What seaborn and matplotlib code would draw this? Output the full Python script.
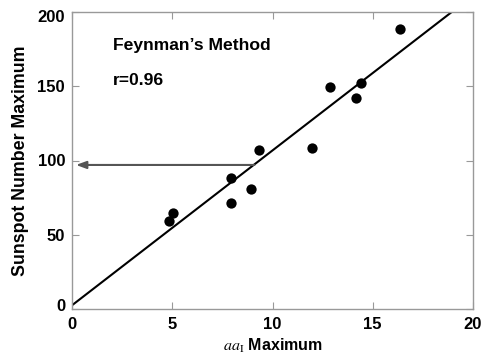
import matplotlib
matplotlib.use("Agg")
import matplotlib.pyplot as plt
import matplotlib.transforms as mtransforms
import seaborn as sns
import pandas as pd

# data
aa_max = [4.82, 5.02, 7.91, 7.95, 8.93, 9.33, 11.95, 12.87, 14.15, 14.41, 16.36]
ssn_max = [59.5, 64.9, 88.5, 71.4, 81.1, 106.8, 108.5, 149.3, 141.9, 152.2, 188.5]
fit_x = [0.0, 18.94]
fit_y = [2.5, 200.0]
pred_x = [9.1, 0.2]
pred_y = [97.0, 97.0]
x_ticks = [0, 5, 10, 15, 20]
y_ticks = [0, 50, 100, 150, 200]
title_text = "Feynman\u2019s Method"
r_text = "r=0.96"
xlabel = r"$aa_{\mathrm{I}}$ Maximum"
ylabel = "Sunspot Number Maximum"

sns.set_style("white")
plt.rcParams["font.family"] = ["Liberation Sans", "DejaVu Sans"]
plt.rcParams["mathtext.fontset"] = "stix"
plt.rcParams["text.color"] = "black"
plt.rcParams["axes.labelcolor"] = "black"
plt.rcParams["xtick.labelcolor"] = "black"
plt.rcParams["ytick.labelcolor"] = "black"

df = pd.DataFrame({"aa": aa_max, "ssn": ssn_max})
fit = pd.DataFrame({"x": fit_x, "y": fit_y})

fig = plt.figure(figsize=(4.84, 3.56), dpi=100)
ax = fig.add_axes([72 / 484, 1 - 309 / 356, (473 - 72) / 484, (309 - 12) / 356])

sns.lineplot(data=fit, x="x", y="y", ax=ax, color="black", linewidth=1.5)
sns.scatterplot(data=df, x="aa", y="ssn", ax=ax, color="black", s=55,
                edgecolor="black", linewidth=0, zorder=5)

ax.annotate("", xy=(pred_x[1], pred_y[1]), xytext=(pred_x[0], pred_y[0]),
            arrowprops=dict(arrowstyle="-|>,head_length=0.6,head_width=0.22",
                            color="#555555", lw=1.5, shrinkA=0, shrinkB=0))

ax.set_xlim(0, 20)
ax.set_ylim(0, 200)
ax.set_xticks(x_ticks)
ax.set_yticks(y_ticks)
ax.set_xticklabels([str(v) for v in x_ticks], fontweight="bold", fontsize=12, color="black")
ax.set_yticklabels([str(v) for v in y_ticks], fontweight="bold", fontsize=12, color="black")
ax.tick_params(direction="in", length=5, width=0.8, color="#999999",
               top=True, right=True, bottom=True, left=True)
ax.tick_params(axis="y", pad=5)
ax.tick_params(axis="x", pad=6)
for s in ax.spines.values():
    s.set_color("#999999")
    s.set_linewidth(1.0)

# end labels of the y axis sit slightly inward, as in the reference
ylabs = ax.get_yticklabels()
ylabs[0].set_transform(ylabs[0].get_transform() +
                       mtransforms.ScaledTranslation(0, 4 / 100, fig.dpi_scale_trans))
ylabs[-1].set_transform(ylabs[-1].get_transform() +
                        mtransforms.ScaledTranslation(0, -4 / 100, fig.dpi_scale_trans))

ax.set_xlabel(xlabel, fontweight="bold", fontsize=11.5, labelpad=3, color="black")
ax.set_ylabel(ylabel, fontweight="bold", fontsize=12.8, labelpad=6, color="black")

ax.text(2.03, 174.2, title_text, fontweight="bold", fontsize=12.6, va="baseline", color="black")
ax.text(2.03, 150.6, r_text, fontweight="bold", fontsize=12.6, va="baseline", color="black")

fig.savefig("out.png", dpi=100)
